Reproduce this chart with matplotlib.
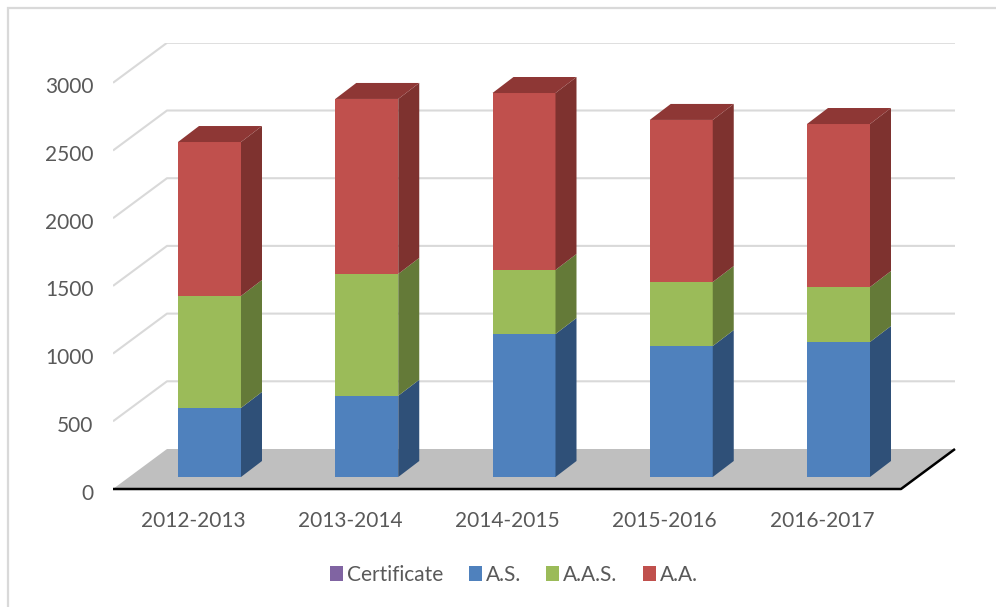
import matplotlib
matplotlib.use('Agg')
import matplotlib.pyplot as plt
from matplotlib.patches import Polygon, Rectangle
from matplotlib.transforms import ScaledTranslation

years = ['2012-2013', '2013-2014', '2014-2015', '2015-2016', '2016-2017']
series_names = ['Certificate', 'A.S.', 'A.A.S.', 'A.A.']
certificate = [0, 0, 0, 0, 0]
a_s = [510, 600, 1056, 967, 997]
a_a_s = [827, 900, 473, 473, 406]
a_a = [1137, 1292, 1307, 1197, 1204]
y_ticks = [0, 500, 1000, 1500, 2000, 2500, 3000]

front_colors = ['#8064A2', '#4F81BD', '#9BBB59', '#C0504D']
side_colors = ['#4D3B62', '#2F5078', '#647A38', '#7E322F']
top_colors = ['#5F4A7A', '#3A6190', '#7A9444', '#8E3735']

W, H = 996, 607
PX_X = 157.25   # pixels per category
PX_Y = 0.1354   # pixels per value unit
DEPTH_X = 54 / PX_X
DEPTH_Y = 40 / PX_Y
BAR_W = 63 / PX_X
BAR_DX = 21 / PX_X
BAR_DY = 16 / PX_Y
BASE = 12 / PX_Y
X0 = -96.5 / PX_X
X1 = 691.5 / PX_X
LABEL_SHIFT = 16.5 / PX_X   # category labels sit left of the bars

fig = plt.figure(figsize=(W / 100, H / 100), dpi=100)
plt.rcParams['font.family'] = ['Lato', 'DejaVu Sans']
left, right, top, bottom = 113, 955, 43, 489
ax = fig.add_axes([left / W, 1 - bottom / H, (right - left) / W, (bottom - top) / H])
ax.set_xlim(X0, X0 + (right - left) / PX_X)
ax.set_ylim(0, (bottom - top) / PX_Y)
ax.patch.set_visible(False)
for s in ax.spines.values():
    s.set_visible(False)

fig.add_artist(Rectangle((8 / W, -0.02), (W + 20) / W, 1.02 - 8 / H, transform=fig.transFigure,
                         fill=False, ec='#D9D9D9', lw=1.6))

# walls and floor
for v in y_ticks[1:]:
    ax.plot([X0, X0 + DEPTH_X, X1 + DEPTH_X], [v, v + DEPTH_Y, v + DEPTH_Y],
            color='#D9D9D9', lw=1.5, zorder=1, solid_capstyle='butt')
ax.add_patch(Polygon([(X0, 0), (X0 + DEPTH_X, DEPTH_Y), (X1 + DEPTH_X, DEPTH_Y), (X1, 0)],
                     fc='#BFBFBF', ec='none', zorder=2))
ax.plot([X0, X1, X1 + DEPTH_X], [0, 0, DEPTH_Y], color='black', lw=1.8, zorder=3,
        clip_on=False, solid_capstyle='butt')

# bars, bottom segment first
stacks = [certificate, a_s, a_a_s, a_a]
handles = []
for i in range(len(years)):
    low = BASE
    for j, values in enumerate(stacks):
        v = values[i]
        high = low + v
        xl = i - BAR_W / 2
        xr = i + BAR_W / 2
        bar = ax.bar(i, v, BAR_W, bottom=low, color=front_colors[j], zorder=4 + i, label=series_names[j])
        if i == 0:
            handles.append(bar)
        if v > 0:
            ax.add_patch(Polygon([(xr, low), (xr + BAR_DX, low + BAR_DY), (xr + BAR_DX, high + BAR_DY), (xr, high)],
                                 fc=side_colors[j], ec='none', zorder=4 + i))
            if j == len(stacks) - 1:
                ax.add_patch(Polygon([(xl, high), (xl + BAR_DX, high + BAR_DY), (xr + BAR_DX, high + BAR_DY), (xr, high)],
                                     fc=top_colors[j], ec='none', zorder=4 + i))
        low = high

ax.set_xticks([i - LABEL_SHIFT for i in range(len(years))])
ax.set_xticklabels(years)
ax.set_yticks(y_ticks)
ax.tick_params(axis='both', length=0, labelsize=15, labelcolor='#595959')
ax.tick_params(axis='x', pad=16)
ax.tick_params(axis='y', pad=14)
for label in ax.get_yticklabels():
    label.set_transform(label.get_transform() + ScaledTranslation(0, -2.5 / 100, fig.dpi_scale_trans))

fig.legend(handles=handles, labels=series_names, loc='center', bbox_to_anchor=(514 / W, 1 - 575 / H), ncol=4,
           frameon=False, fontsize=15, labelcolor='#595959', handlelength=0.63, handleheight=0.7,
           handletextpad=0.2, columnspacing=1.2)

fig.savefig('out.png', dpi=100)
